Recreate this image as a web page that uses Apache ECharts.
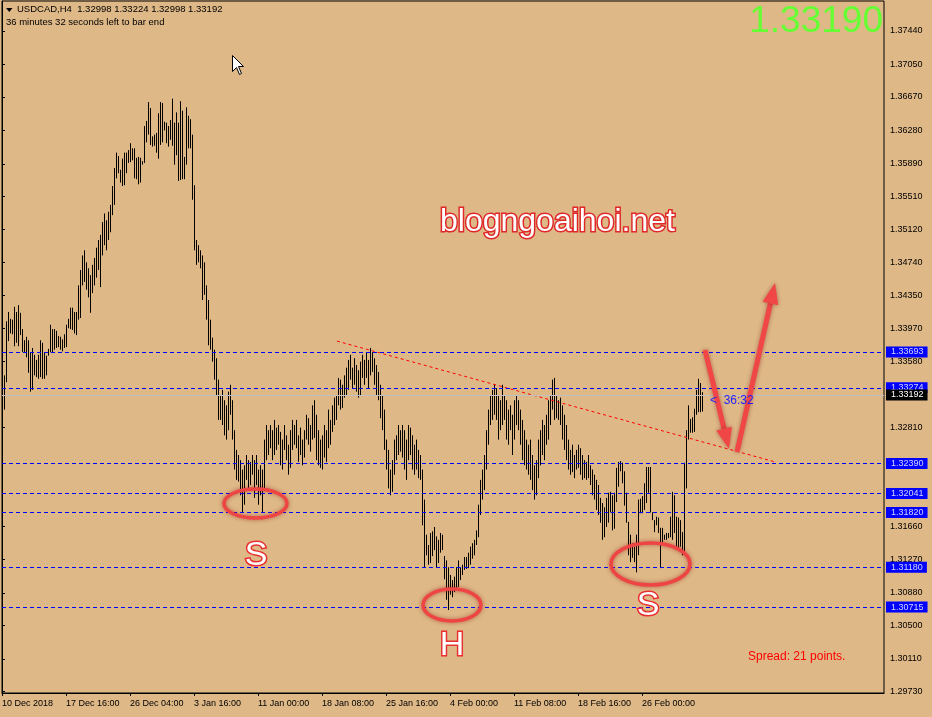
<!DOCTYPE html>
<html>
<head>
<meta charset="utf-8">
<title>USDCAD,H4</title>
<script src="https://cdn.jsdelivr.net/npm/echarts@6.0.0/dist/echarts.min.js"></script>
<style>
  html, body { margin: 0; padding: 0; background: #deb887; }
  #chart { width: 932px; height: 717px; }
</style>
</head>
<body>
<div id="chart"></div>
<script>
// H4 bars (high / low), one every 2px
const highs = [
  1.3325,1.3342,1.3405,1.3416,1.3408,1.3407,1.3422,1.3416,1.3424,1.3415,
  1.3396,1.3383,1.3387,1.3383,1.3369,1.3374,1.3366,1.3360,1.3366,1.3383,
  1.3380,1.3369,1.3365,1.3373,1.3401,1.3396,1.3396,1.3394,1.3388,1.3387,
  1.3384,1.3390,1.3401,1.3408,1.3421,1.3421,1.3416,1.3416,1.3447,1.3465,
  1.3482,1.3488,1.3474,1.3467,1.3459,1.3471,1.3479,1.3491,1.3500,1.3506,
  1.3521,1.3531,1.3523,1.3533,1.3541,1.3563,1.3584,1.3602,1.3598,1.3582,
  1.3595,1.3602,1.3602,1.3605,1.3613,1.3607,1.3607,1.3596,1.3597,1.3596,
  1.3592,1.3633,1.3639,1.3661,1.3654,1.3621,1.3623,1.3625,1.3648,1.3661,
  1.3660,1.3638,1.3637,1.3633,1.3640,1.3665,1.3637,1.3649,1.3637,1.3662,
  1.3651,1.3597,1.3655,1.3645,1.3641,1.3623,1.3564,1.3500,1.3494,1.3488,
  1.3482,1.3474,1.3447,1.3430,1.3407,1.3386,1.3372,1.3362,1.3337,1.3319,
  1.3325,1.3313,1.3307,1.3323,1.3331,1.3313,1.3278,1.3255,1.3249,1.3243,
  1.3232,1.3237,1.3249,1.3243,1.3241,1.3249,1.3243,1.3249,1.3232,1.3237,
  1.3232,1.3267,1.3284,1.3278,1.3284,1.3278,1.3290,1.3281,1.3284,1.3276,
  1.3267,1.3284,1.3272,1.3261,1.3278,1.3290,1.3284,1.3290,1.3272,1.3281,
  1.3267,1.3278,1.3296,1.3292,1.3284,1.3307,1.3313,1.3296,1.3278,1.3267,
  1.3272,1.3284,1.3278,1.3302,1.3290,1.3307,1.3316,1.3319,1.3339,1.3337,
  1.3331,1.3342,1.3351,1.3360,1.3366,1.3351,1.3362,1.3354,1.3348,1.3358,
  1.3366,1.3360,1.3369,1.3360,1.3374,1.3369,1.3362,1.3354,1.3346,1.3331,
  1.3319,1.3302,1.3267,1.3255,1.3232,1.3243,1.3267,1.3272,1.3284,1.3278,
  1.3284,1.3278,1.3267,1.3284,1.3281,1.3272,1.3261,1.3267,1.3255,1.3249,
  1.3232,1.3197,1.3156,1.3144,1.3158,1.3160,1.3165,1.3154,1.3150,1.3158,
  1.3156,1.3131,1.3126,1.3118,1.3109,1.3103,1.3107,1.3118,1.3126,1.3118,
  1.3121,1.3130,1.3130,1.3135,1.3142,1.3146,1.3150,1.3161,1.3191,1.3220,
  1.3232,1.3249,1.3278,1.3302,1.3319,1.3325,1.3331,1.3327,1.3319,1.3313,
  1.3331,1.3319,1.3313,1.3302,1.3307,1.3296,1.3313,1.3319,1.3313,1.3302,
  1.3290,1.3278,1.3267,1.3261,1.3267,1.3249,1.3237,1.3243,1.3267,1.3278,
  1.3290,1.3284,1.3296,1.3313,1.3319,1.3337,1.3339,1.3319,1.3313,1.3316,
  1.3307,1.3296,1.3284,1.3267,1.3255,1.3261,1.3249,1.3255,1.3261,1.3257,
  1.3249,1.3243,1.3241,1.3249,1.3237,1.3232,1.3226,1.3220,1.3214,1.3199,
  1.3193,1.3188,1.3199,1.3205,1.3206,1.3202,1.3205,1.3234,1.3241,1.3242,
  1.3240,1.3230,1.3205,1.3171,1.3156,1.3146,1.3142,1.3156,1.3197,1.3198,
  1.3201,1.3216,1.3235,1.3235,1.3235,1.3182,1.3173,1.3177,1.3176,1.3164,
  1.3164,1.3156,1.3158,1.3158,1.3177,1.3206,1.3202,1.3177,1.3176,1.3173,
  1.3159,1.3240,1.3278,1.3307,1.3291,1.3293,1.3303,1.3325,1.3338,1.3333,
  1.33224
];
const lows = [
  1.3290,1.3302,1.3334,1.3382,1.3391,1.3390,1.3376,1.3380,1.3376,1.3389,
  1.3369,1.3369,1.3363,1.3345,1.3323,1.3325,1.3342,1.3340,1.3338,1.3340,
  1.3338,1.3338,1.3342,1.3365,1.3369,1.3369,1.3372,1.3374,1.3375,1.3372,
  1.3370,1.3374,1.3375,1.3397,1.3396,1.3395,1.3391,1.3389,1.3407,1.3409,
  1.3447,1.3451,1.3442,1.3433,1.3415,1.3438,1.3447,1.3456,1.3465,1.3445,
  1.3482,1.3494,1.3488,1.3500,1.3509,1.3529,1.3541,1.3572,1.3578,1.3567,
  1.3563,1.3564,1.3578,1.3590,1.3591,1.3593,1.3572,1.3571,1.3565,1.3567,
  1.3588,1.3590,1.3614,1.3623,1.3611,1.3609,1.3610,1.3602,1.3595,1.3611,
  1.3614,1.3628,1.3613,1.3609,1.3617,1.3610,1.3588,1.3599,1.3569,1.3570,
  1.3571,1.3571,1.3588,1.3607,1.3607,1.3547,1.3488,1.3471,1.3474,1.3467,
  1.3430,1.3436,1.3407,1.3377,1.3372,1.3358,1.3337,1.3319,1.3290,1.3290,
  1.3284,1.3272,1.3267,1.3278,1.3296,1.3267,1.3232,1.3220,1.3218,1.3202,
  1.3182,1.3191,1.3220,1.3208,1.3214,1.3226,1.3199,1.3214,1.3191,1.3202,
  1.3182,1.3208,1.3243,1.3249,1.3257,1.3243,1.3249,1.3255,1.3261,1.3237,
  1.3232,1.3255,1.3243,1.3226,1.3234,1.3255,1.3261,1.3257,1.3241,1.3249,
  1.3237,1.3246,1.3267,1.3261,1.3253,1.3267,1.3269,1.3243,1.3237,1.3234,
  1.3232,1.3246,1.3241,1.3257,1.3261,1.3276,1.3284,1.3290,1.3307,1.3302,
  1.3304,1.3316,1.3319,1.3325,1.3337,1.3327,1.3331,1.3323,1.3316,1.3319,
  1.3339,1.3331,1.3339,1.3327,1.3342,1.3346,1.3331,1.3319,1.3313,1.3292,
  1.3278,1.3255,1.3232,1.3210,1.3202,1.3206,1.3226,1.3243,1.3249,1.3253,
  1.3246,1.3232,1.3220,1.3243,1.3249,1.3232,1.3226,1.3232,1.3222,1.3220,
  1.3167,1.3118,1.3132,1.3121,1.3123,1.3131,1.3138,1.3118,1.3123,1.3135,
  1.3138,1.3104,1.3080,1.3068,1.3086,1.3083,1.3089,1.3094,1.3095,1.3103,
  1.3109,1.3115,1.3116,1.3117,1.3121,1.3128,1.3132,1.3144,1.3153,1.3179,
  1.3197,1.3208,1.3232,1.3261,1.3284,1.3290,1.3296,1.3290,1.3267,1.3278,
  1.3284,1.3290,1.3267,1.3261,1.3278,1.3249,1.3267,1.3284,1.3278,1.3261,
  1.3243,1.3237,1.3232,1.3226,1.3220,1.3208,1.3197,1.3202,1.3222,1.3237,
  1.3249,1.3243,1.3261,1.3267,1.3284,1.3302,1.3290,1.3292,1.3290,1.3284,
  1.3267,1.3255,1.3243,1.3232,1.3226,1.3229,1.3222,1.3232,1.3234,1.3226,
  1.3220,1.3222,1.3220,1.3222,1.3214,1.3202,1.3197,1.3185,1.3179,1.3170,
  1.3150,1.3153,1.3165,1.3170,1.3182,1.3161,1.3163,1.3194,1.3212,1.3230,
  1.3216,1.3190,1.3170,1.3132,1.3124,1.3129,1.3124,1.3112,1.3132,1.3181,
  1.3181,1.3185,1.3193,1.3205,1.3182,1.3173,1.3159,1.3167,1.3158,1.3117,
  1.3147,1.3150,1.3150,1.3152,1.3153,1.3150,1.3158,1.3142,1.3138,1.3142,
  1.3132,1.3132,1.3210,1.3267,1.3275,1.3275,1.3276,1.3296,1.3299,1.3299,
  1.32998
];

// time axis: one label every 32 bars
const timeLabels = ['10 Dec 2018', '17 Dec 16:00', '26 Dec 04:00', '3 Jan 16:00', '11 Jan 00:00',
  '18 Jan 08:00', '25 Jan 16:00', '4 Feb 00:00', '11 Feb 08:00', '18 Feb 16:00', '26 Feb 00:00'];
const labelStep = 32;

// price scale labels
const priceTicks = [1.37440, 1.37050, 1.36670, 1.36280, 1.35890, 1.35510, 1.35120, 1.34740, 1.34350,
  1.33970, 1.33580, 1.32810, 1.31660, 1.31270, 1.30880, 1.30500, 1.30110, 1.29730];

// horizontal levels drawn on the chart
const levels = [1.33693, 1.33274, 1.32390, 1.32041, 1.31820, 1.31180, 1.30715];
const bidPrice = 1.33192;

// falling trend line (bar index, price)
const trendLine = [[167.5, 1.3382], [386.5, 1.3241]];

const font = 'Liberation Sans, Arial, sans-serif';
const chart = echarts.init(document.getElementById('chart'));

const bars = highs.map((h, i) => [i, lows[i], h]);
const tickIdx = timeLabels.map((_, k) => k * labelStep);

// markLine items: blue levels + grey bid line
const levelLines = levels.map(v => ({ yAxis: v }));
levelLines.push({
  yAxis: bidPrice,
  lineStyle: { color: '#c0c0c0', type: 'solid', width: 1 },
  label: { backgroundColor: '#000000', color: '#ffffff' }
});

// arrow helper for the red annotations
function arrow(x1, y1, x2, y2) {
  const dx = x2 - x1, dy = y2 - y1;
  const len = Math.sqrt(dx * dx + dy * dy);
  const ux = dx / len, uy = dy / len;
  const hl = 21, hw = 8;
  const bx = x2 - ux * hl, by = y2 - uy * hl;
  const st = { stroke: '#f04646', lineWidth: 5, shadowBlur: 4, shadowColor: 'rgba(120,0,0,0.45)' };
  return [
    { type: 'line', z: 100, shape: { x1: x1, y1: y1, x2: bx, y2: by }, style: st },
    { type: 'polygon', z: 100,
      shape: { points: [[x2, y2], [bx - uy * hw, by + ux * hw], [bx + uy * hw, by - ux * hw]] },
      style: { fill: '#f04646', shadowBlur: 4, shadowColor: 'rgba(120,0,0,0.45)' } }
  ];
}

function ring(cx, cy, rx, ry) {
  return { type: 'ellipse', z: 100, shape: { cx: cx, cy: cy, rx: rx, ry: ry },
    style: { fill: 'none', stroke: '#ee4444', lineWidth: 3.5, shadowBlur: 4, shadowColor: 'rgba(150,0,0,0.5)' } };
}

function letter(t, x, y) {
  return { type: 'text', z: 100, x: x, y: y,
    style: { text: t, font: '34px ' + font, fill: '#ffffff', stroke: '#e83030', lineWidth: 3,
      strokeFirst: true, align: 'center', verticalAlign: 'middle',
      shadowBlur: 3, shadowColor: 'rgba(160,0,0,0.6)' } };
}

const graphics = [
  { type: 'polygon', z: 100, shape: { points: [[6, 8], [12.5, 8], [9.25, 12]] }, style: { fill: '#000' } },
  { type: 'text', z: 100, x: 17, y: 9.5,
    style: { text: 'USDCAD,H4  1.32998 1.33224 1.32998 1.33192', font: '9.5px ' + font, fill: '#000', verticalAlign: 'middle' } },
  { type: 'text', z: 100, x: 6, y: 22.5,
    style: { text: '36 minutes 32 seconds left to bar end', font: '9.5px ' + font, fill: '#000', verticalAlign: 'middle' } },
  { type: 'text', z: 100, x: 883, y: 22,
    style: { text: '1.33190', font: '37px ' + font, fill: '#66ff33', align: 'right', verticalAlign: 'middle' } },
  { type: 'text', z: 100, x: 440, y: 222,
    style: { text: 'blogngoaihoi.net', font: '32px ' + font, fill: '#ffffff', stroke: '#e02828', lineWidth: 3,
      strokeFirst: true, verticalAlign: 'middle', shadowBlur: 4, shadowColor: 'rgba(170,0,0,0.6)' } },
  ring(255.5, 503.5, 31.5, 14.5),
  ring(452, 605, 29, 16),
  ring(650.5, 564, 39.5, 21),
  letter('S', 256, 556),
  letter('H', 452, 646),
  letter('S', 648, 606),
  ...arrow(705, 350, 729, 449),
  ...arrow(737, 452, 775, 283),
  { type: 'text', z: 100, x: 710, y: 401,
    style: { text: '<  36:32', font: '12px ' + font, fill: '#1e1eff', verticalAlign: 'middle' } },
  { type: 'text', z: 100, x: 748, y: 657,
    style: { text: 'Spread: 21 points.', font: '12px ' + font, fill: '#ff0000', verticalAlign: 'middle' } },
  { type: 'polygon', z: 100,
    shape: { points: [[232.5, 55.5], [232.5, 71.5], [236.5, 67.5], [239.5, 74.5], [241.5, 73.5], [238.5, 66.5], [243.5, 66.5]] },
    style: { fill: '#ffffff', stroke: '#000000', lineWidth: 1 } }
];

const option = {
  backgroundColor: '#deb887',
  animation: false,
  grid: {
    left: 2, right: 48, top: 1, bottom: 24,
    show: true, borderColor: '#000', borderWidth: 1,
    outerBoundsMode: 'none'
  },
  xAxis: {
    type: 'value', min: 0, max: 441,
    axisLine: { show: true, lineStyle: { color: '#000' } },
    axisTick: { show: true, customValues: tickIdx, length: 3, lineStyle: { color: '#000' } },
    axisLabel: {
      customValues: tickIdx,
      formatter: v => timeLabels[Math.round(v / labelStep)],
      align: 'left', color: '#000', fontSize: 9, fontFamily: font, margin: 6
    },
    splitLine: { show: false }
  },
  yAxis: {
    type: 'value', position: 'right', min: 1.29712, max: 1.37790,
    axisLine: { show: true, lineStyle: { color: '#000' } },
    axisTick: { show: true, customValues: priceTicks, length: 3, lineStyle: { color: '#000' } },
    axisLabel: {
      customValues: priceTicks,
      formatter: v => v.toFixed(5),
      color: '#000', fontSize: 9, fontFamily: font, margin: 6
    },
    splitLine: { show: false }
  },
  series: [
    {
      type: 'custom',
      name: 'USDCAD',
      data: bars,
      encode: { x: 0, y: [1, 2] },
      renderItem: function (params, api) {
        const lo = api.coord([api.value(0), api.value(1)]);
        const hi = api.coord([api.value(0), api.value(2)]);
        const px = Math.round(lo[0]) + 0.5;
        return {
          type: 'line',
          shape: { x1: px, y1: lo[1], x2: px, y2: hi[1] },
          style: { stroke: '#000000', lineWidth: 1 }
        };
      },
      z: 2
    },
    {
      type: 'line',
      name: 'trend',
      data: trendLine,
      symbol: 'none',
      silent: true,
      lineStyle: { color: '#ff0000', width: 1, type: [3, 3] },
      z: 3,
      markLine: {
        silent: true,
        precision: 5,
        symbol: ['none', 'none'],
        lineStyle: { color: '#0000ff', width: 1, type: [4, 3] },
        label: {
          position: 'end',
          distance: 2,
          formatter: p => p.value.toFixed(5),
          backgroundColor: '#0000ff',
          color: '#d4d4ff',
          fontSize: 9,
          fontFamily: font,
          lineHeight: 9,
          padding: [1, 4, 1, 5]
        },
        data: levelLines
      }
    }
  ],
  graphic: graphics
};

chart.setOption(option);
</script>
</body>
</html>
